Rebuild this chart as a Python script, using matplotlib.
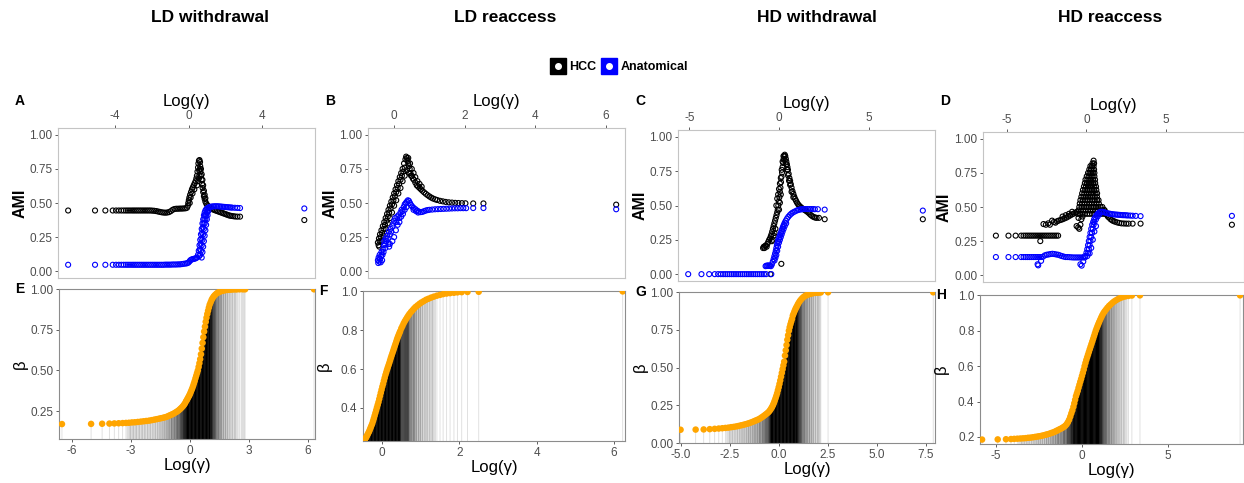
import numpy as np
import matplotlib
matplotlib.use("Agg")
import matplotlib.pyplot as plt
from matplotlib.lines import Line2D
from matplotlib.legend_handler import HandlerTuple

plt.rcParams["font.family"] = ["Liberation Sans", "DejaVu Sans"]
plt.rcParams["axes.unicode_minus"] = False

# ---- data: (log gamma, AMI) ----
titles = ["LD withdrawal", "LD reaccess", "HD withdrawal", "HD reaccess"]

A_hcc = [(-6.55, 0.445), (-5.09, 0.445), (-4.53, 0.445), (-4.13, 0.445), (-3.95, 0.445), (-3.8, 0.445),
         (-3.66, 0.445), (-3.53, 0.445), (-3.41, 0.445), (-3.3, 0.445), (-3.19, 0.445), (-3.08, 0.445),
         (-2.98, 0.445), (-2.88, 0.445), (-2.78, 0.445), (-2.68, 0.445), (-2.58, 0.445), (-2.48, 0.445),
         (-2.38, 0.445), (-2.28, 0.445), (-2.18, 0.445), (-2.08, 0.445), (-1.98, 0.444), (-1.88, 0.443),
         (-1.78, 0.441), (-1.68, 0.438), (-1.58, 0.435), (-1.48, 0.432), (-1.38, 0.43), (-1.28, 0.429),
         (-1.18, 0.43), (-1.08, 0.433), (-0.98, 0.44), (-0.88, 0.45), (-0.78, 0.456), (-0.68, 0.458),
         (-0.58, 0.458), (-0.48, 0.459), (-0.38, 0.459), (-0.28, 0.46), (-0.18, 0.461), (-0.1, 0.465),
         (-0.05, 0.48), (-0.03, 0.5), (0.0, 0.52), (0.03, 0.54), (0.07, 0.56), (0.12, 0.58), (0.17, 0.6),
         (0.22, 0.615), (0.27, 0.63), (0.32, 0.645), (0.37, 0.66), (0.41, 0.68), (0.44, 0.7), (0.47, 0.73),
         (0.5, 0.76), (0.52, 0.79), (0.55, 0.81), (0.58, 0.815), (0.61, 0.8), (0.62, 0.77), (0.6, 0.75),
         (0.63, 0.73), (0.66, 0.7), (0.69, 0.67), (0.72, 0.64), (0.75, 0.61), (0.78, 0.58), (0.82, 0.55),
         (0.86, 0.53), (0.9, 0.51), (0.95, 0.495), (1.0, 0.485), (1.06, 0.475), (0.55, 0.68), (0.5, 0.66),
         (0.45, 0.63), (0.58, 0.7), (0.56, 0.74), (0.3, 0.6), (0.2, 0.57), (0.1, 0.54), (0.05, 0.5),
         (0.66, 0.75), (0.7, 0.71), (0.74, 0.67), (0.78, 0.63), (0.82, 0.59), (0.86, 0.56), (0.9, 0.535),
         (1.12, 0.467), (1.2, 0.46), (1.28, 0.455), (1.36, 0.45), (1.44, 0.446), (1.52, 0.442), (1.6, 0.438),
         (1.68, 0.434), (1.76, 0.43), (1.84, 0.426), (1.92, 0.422), (2.0, 0.418), (2.08, 0.414), (2.16, 0.41),
         (2.24, 0.407), (2.32, 0.405), (2.42, 0.403), (2.52, 0.401), (2.64, 0.4), (2.78, 0.4), (6.27, 0.375)]
A_anat = [(-6.55, 0.047), (-5.09, 0.047), (-4.53, 0.047), (-4.13, 0.047), (-3.95, 0.047), (-3.8, 0.047),
          (-3.66, 0.047), (-3.53, 0.047), (-3.41, 0.047), (-3.3, 0.047), (-3.19, 0.047), (-3.08, 0.047),
          (-2.98, 0.047), (-2.88, 0.047), (-2.78, 0.047), (-2.68, 0.047), (-2.58, 0.047), (-2.48, 0.047),
          (-2.38, 0.047), (-2.28, 0.047), (-2.18, 0.047), (-2.08, 0.047), (-1.98, 0.047), (-1.88, 0.047),
          (-1.78, 0.047), (-1.68, 0.047), (-1.58, 0.047), (-1.48, 0.047), (-1.38, 0.047), (-1.28, 0.048),
          (-1.18, 0.048), (-1.08, 0.048), (-0.98, 0.048), (-0.88, 0.049), (-0.78, 0.049), (-0.68, 0.049),
          (-0.58, 0.05), (-0.48, 0.05), (-0.38, 0.052), (-0.28, 0.054), (-0.18, 0.056), (-0.1, 0.058),
          (-0.03, 0.062), (0.03, 0.07), (0.08, 0.08), (0.14, 0.085), (0.2, 0.088), (0.26, 0.09), (0.32, 0.092),
          (0.38, 0.095), (0.44, 0.1), (0.5, 0.12), (0.54, 0.15), (0.58, 0.19), (0.62, 0.23), (0.66, 0.27),
          (0.7, 0.31), (0.74, 0.35), (0.78, 0.38), (0.82, 0.41), (0.86, 0.43), (0.9, 0.445), (0.95, 0.455),
          (1.0, 0.462), (0.62, 0.12), (0.66, 0.15), (0.7, 0.19), (0.74, 0.23), (0.78, 0.27), (0.82, 0.31),
          (0.86, 0.35), (0.9, 0.38), (0.94, 0.41), (0.98, 0.43), (1.02, 0.445), (0.56, 0.11), (0.6, 0.16),
          (0.64, 0.2), (0.68, 0.24), (0.72, 0.28), (0.76, 0.32), (0.8, 0.35), (0.84, 0.38), (0.88, 0.41),
          (0.7, 0.1), (0.74, 0.14), (0.78, 0.18), (0.82, 0.22), (0.86, 0.26), (0.9, 0.3), (0.94, 0.34),
          (0.98, 0.38), (1.02, 0.41), (1.06, 0.44),
          (1.08, 0.468), (1.16, 0.472), (1.24, 0.474), (1.32, 0.475), (1.4, 0.476), (1.48, 0.476), (1.56, 0.476),
          (1.64, 0.475), (1.72, 0.474), (1.8, 0.473), (1.88, 0.472), (1.96, 0.471), (2.04, 0.47), (2.12, 0.469),
          (2.2, 0.468), (2.28, 0.467), (2.36, 0.466), (2.5, 0.465), (2.64, 0.464), (2.78, 0.463), (6.27, 0.46)]

B_hcc = [(-0.46, 0.21), (-0.44, 0.19), (-0.43, 0.24), (-0.41, 0.22), (-0.4, 0.27), (-0.38, 0.25), (-0.36, 0.3),
         (-0.34, 0.28), (-0.32, 0.33), (-0.3, 0.31), (-0.28, 0.36), (-0.26, 0.34), (-0.24, 0.39), (-0.22, 0.37),
         (-0.2, 0.42), (-0.18, 0.4), (-0.16, 0.45), (-0.14, 0.43), (-0.12, 0.48), (-0.1, 0.46), (-0.08, 0.51),
         (-0.06, 0.49), (-0.04, 0.54), (-0.02, 0.52), (0.0, 0.57), (0.02, 0.55), (0.04, 0.6), (0.06, 0.58),
         (0.08, 0.63), (0.1, 0.61), (0.12, 0.66), (0.14, 0.64), (0.16, 0.69), (0.18, 0.67), (0.2, 0.72),
         (0.22, 0.7), (0.24, 0.75), (0.26, 0.73), (0.28, 0.79), (0.3, 0.76), (0.32, 0.82), (0.34, 0.84),
         (0.36, 0.83), (0.38, 0.81), (0.4, 0.79), (0.42, 0.77), (0.44, 0.75), (0.46, 0.72), (0.48, 0.7),
         (0.5, 0.7), (0.53, 0.68), (0.56, 0.67), (0.6, 0.65), (0.64, 0.63), (0.68, 0.62), (0.72, 0.61),
         (0.76, 0.6), (0.8, 0.59), (0.85, 0.578), (0.9, 0.567), (0.95, 0.557), (1.0, 0.548), (1.05, 0.54),
         (1.1, 0.533), (1.16, 0.527), (1.22, 0.522), (1.3, 0.516), (1.38, 0.512), (1.46, 0.508), (1.55, 0.505),
         (1.64, 0.503), (1.73, 0.501), (1.82, 0.5), (1.92, 0.499), (2.02, 0.498), (2.24, 0.497), (2.53, 0.497),
         (6.29, 0.488), (-0.42, 0.18), (-0.36, 0.22), (-0.3, 0.26), (-0.24, 0.31), (-0.18, 0.35), (-0.12, 0.39),
         (-0.06, 0.43), (0.0, 0.48), (0.06, 0.52), (0.12, 0.57), (0.18, 0.61), (0.24, 0.66), (0.3, 0.7),
         (0.36, 0.74), (0.42, 0.72), (0.4, 0.83), (0.45, 0.79), (0.5, 0.75), (0.55, 0.72), (0.6, 0.69),
         (0.66, 0.66), (0.72, 0.64), (0.78, 0.62)]
B_anat = [(-0.46, 0.08), (-0.45, 0.06), (-0.44, 0.1), (-0.42, 0.07), (-0.41, 0.12), (-0.4, 0.09), (-0.38, 0.065),
          (-0.37, 0.11), (-0.36, 0.14), (-0.34, 0.08), (-0.33, 0.12), (-0.32, 0.16), (-0.3, 0.14), (-0.29, 0.19),
          (-0.28, 0.22), (-0.26, 0.2), (-0.25, 0.17), (-0.24, 0.24), (-0.22, 0.22), (-0.2, 0.26), (-0.18, 0.24),
          (-0.16, 0.2), (-0.14, 0.18), (-0.12, 0.2), (-0.15, 0.29), (-0.12, 0.27), (-0.1, 0.31), (-0.08, 0.29),
          (-0.05, 0.33), (-0.02, 0.35), (0.0, 0.37), (0.03, 0.39), (0.06, 0.36), (0.09, 0.4), (0.12, 0.41),
          (0.15, 0.39), (0.18, 0.43), (0.21, 0.45), (0.24, 0.44), (0.27, 0.47), (0.3, 0.49), (0.33, 0.5),
          (0.36, 0.51), (0.39, 0.52), (0.42, 0.515), (0.45, 0.5), (0.48, 0.485), (0.51, 0.475), (0.55, 0.465),
          (0.6, 0.455), (0.65, 0.445), (0.7, 0.437), (0.75, 0.433), (0.8, 0.435), (0.85, 0.44), (0.9, 0.445),
          (0.95, 0.448), (1.0, 0.45), (1.08, 0.452), (1.16, 0.454), (1.24, 0.455), (1.32, 0.456), (1.4, 0.457),
          (1.48, 0.458), (1.56, 0.459), (1.64, 0.46), (1.72, 0.461), (1.8, 0.461), (1.88, 0.462), (1.96, 0.462),
          (2.04, 0.462), (2.24, 0.463), (2.53, 0.463), (6.29, 0.454),
          (-0.05, 0.22), (0.0, 0.25), (0.05, 0.3), (0.1, 0.34), (0.15, 0.36), (0.2, 0.4), (0.25, 0.42),
          (0.3, 0.45), (0.35, 0.47), (0.55, 0.45), (0.62, 0.44), (0.68, 0.43)]

C_hcc = [(-0.89, 0.19), (-0.85, 0.2), (-0.81, 0.19), (-0.77, 0.205), (-0.73, 0.21), (-0.69, 0.2), (-0.65, 0.22),
         (-0.6, 0.235), (-0.55, 0.25), (-0.5, 0.26), (-0.46, 0.275), (-0.42, 0.29), (-0.38, 0.31), (-0.34, 0.33),
         (-0.3, 0.35), (-0.26, 0.37), (-0.22, 0.39), (-0.18, 0.41), (-0.14, 0.43), (-0.1, 0.45), (-0.07, 0.47),
         (-0.04, 0.5), (-0.01, 0.53), (0.02, 0.56), (0.05, 0.6), (0.08, 0.63), (0.11, 0.67), (0.14, 0.71),
         (0.17, 0.74), (0.2, 0.78), (0.23, 0.81), (0.26, 0.84), (0.29, 0.86), (0.32, 0.87), (0.35, 0.86),
         (0.38, 0.84), (0.41, 0.82), (0.44, 0.8), (0.47, 0.78), (0.5, 0.76), (0.54, 0.73), (0.58, 0.7),
         (0.62, 0.68), (0.66, 0.655), (0.7, 0.63), (0.75, 0.605), (0.8, 0.585), (0.85, 0.565), (0.9, 0.548),
         (0.95, 0.535), (1.0, 0.522), (1.06, 0.51), (1.12, 0.5), (1.18, 0.492), (1.24, 0.485), (1.3, 0.479),
         (1.38, 0.472), (1.46, 0.465), (1.54, 0.458), (1.62, 0.45), (1.7, 0.44), (1.78, 0.43), (1.86, 0.422),
         (1.94, 0.416), (2.02, 0.412), (2.1, 0.41), (2.23, 0.41), (2.55, 0.4), (8.03, 0.4),
         (-0.15, 0.5), (-0.1, 0.55), (-0.05, 0.58), (0.0, 0.62), (0.05, 0.66), (0.1, 0.7), (0.15, 0.76),
         (0.2, 0.82), (0.25, 0.86), (0.3, 0.83), (0.0, 0.47), (0.05, 0.52), (0.1, 0.58), (-0.2, 0.33),
         (-0.25, 0.3), (-0.3, 0.28), (-0.35, 0.25), (-0.4, 0.24), (0.13, 0.075), (-0.48, 0.0),
         (0.4, 0.8), (0.45, 0.76), (0.5, 0.72), (0.56, 0.68), (0.62, 0.65), (0.7, 0.6), (0.8, 0.56)]
C_anat = [(-5.07, 0.0), (-4.33, 0.0), (-3.9, 0.0), (-3.59, 0.0), (-3.4, 0.0), (-3.25, 0.0), (-3.12, 0.0),
          (-3.0, 0.0), (-2.88, 0.0), (-2.76, 0.0), (-2.64, 0.0), (-2.52, 0.0), (-2.4, 0.0), (-2.28, 0.0),
          (-2.16, 0.0), (-2.04, 0.0), (-1.92, 0.0), (-1.8, 0.0), (-1.68, 0.0), (-1.56, 0.0), (-1.44, 0.0),
          (-1.32, 0.0), (-1.2, 0.0), (-1.08, 0.0), (-0.96, 0.0), (-0.84, 0.0), (-0.72, 0.0),
          (-0.75, 0.058), (-0.7, 0.062), (-0.65, 0.06), (-0.6, 0.064), (-0.55, 0.06), (-0.5, 0.062),
          (-0.45, 0.058), (-0.43, 0.0), (-0.4, 0.07), (-0.35, 0.09), (-0.3, 0.11), (-0.26, 0.13), (-0.22, 0.15),
          (-0.18, 0.17), (-0.15, 0.19), (-0.12, 0.21), (-0.09, 0.225), (-0.06, 0.24), (-0.02, 0.255), (0.02, 0.27),
          (0.06, 0.285), (0.1, 0.3), (0.14, 0.315), (0.18, 0.33), (0.22, 0.345), (0.27, 0.36), (0.32, 0.375),
          (0.38, 0.39), (0.45, 0.405), (0.52, 0.418), (0.6, 0.43), (0.68, 0.44), (0.76, 0.448), (0.86, 0.455),
          (0.97, 0.462), (-0.25, 0.1), (-0.2, 0.12), (-0.15, 0.14), (-0.1, 0.17), (-0.05, 0.2), (0.0, 0.23),
          (0.05, 0.25), (0.1, 0.27), (0.15, 0.29), (0.2, 0.31), (0.26, 0.33), (0.32, 0.35), (0.4, 0.37),
          (1.06, 0.467), (1.14, 0.47), (1.22, 0.472), (1.3, 0.473),
          (1.4, 0.474), (1.5, 0.474), (1.6, 0.474), (1.7, 0.474), (1.8, 0.474), (1.9, 0.474), (2.0, 0.473),
          (2.17, 0.473), (2.55, 0.47), (8.03, 0.463)]

D_hcc = [(-5.69, 0.29), (-4.9, 0.29), (-4.45, 0.29), (-4.1, 0.29), (-3.95, 0.29), (-3.82, 0.29), (-3.7, 0.29),
         (-3.58, 0.29), (-3.46, 0.29), (-3.34, 0.29), (-3.22, 0.29), (-3.1, 0.29), (-2.98, 0.29), (-2.86, 0.29),
         (-2.74, 0.29), (-2.62, 0.29), (-2.5, 0.29), (-2.38, 0.29), (-2.26, 0.29), (-2.14, 0.29), (-2.02, 0.29),
         (-1.9, 0.29), (-1.78, 0.29), (-2.9, 0.25), (-2.7, 0.375), (-2.55, 0.37), (-2.4, 0.38), (-2.3, 0.37),
         (-2.16, 0.4), (-2.05, 0.39), (-1.95, 0.385), (-1.85, 0.395), (-1.75, 0.4), (-1.62, 0.405), (-1.5, 0.41),
         (-1.38, 0.416), (-1.26, 0.422), (-1.14, 0.43), (-1.02, 0.438), (-0.9, 0.446), (-0.8, 0.452),
         (-0.7, 0.458), (-0.6, 0.465), (-0.62, 0.36), (-0.52, 0.35), (-0.45, 0.34), (-0.38, 0.37), (-0.32, 0.41),
         (-0.25, 0.43), (-0.5, 0.42), (-0.4, 0.45), (-1.5, 0.43), (-1.3, 0.44), (-1.1, 0.45), (-0.9, 0.465),
         (1.4, 0.425), (1.5, 0.412), (1.6, 0.403), (1.7, 0.397), (1.8, 0.392), (1.93, 0.387), (2.06, 0.383),
         (2.2, 0.38), (2.35, 0.379), (2.5, 0.378), (2.65, 0.378), (2.9, 0.378), (3.4, 0.378), (9.14, 0.37),
         (1.2, 0.46), (1.3, 0.44), (1.35, 0.43), (1.1, 0.48), (1.0, 0.5)]
# the dense HCC peak of panel D, read row by row (AMI level -> log gamma positions)
D_peak_y = [0.45, 0.475, 0.50, 0.525, 0.55, 0.575, 0.60, 0.625, 0.65, 0.675, 0.70, 0.725, 0.75, 0.775,
            0.80, 0.82, 0.84]
D_peak_x = [[-0.55, -0.4, -0.25, -0.1, 0.05, 0.2, 0.35, 0.5, 0.65, 0.8, 0.95, 1.1, 1.25],
            [-0.5, -0.35, -0.2, -0.05, 0.1, 0.25, 0.4, 0.55, 0.7, 0.85, 1.0, 1.15],
            [-0.45, -0.3, -0.15, 0.0, 0.15, 0.3, 0.45, 0.6, 0.75, 0.88],
            [-0.42, -0.27, -0.12, 0.03, 0.18, 0.33, 0.48, 0.63, 0.78],
            [-0.38, -0.23, -0.08, 0.07, 0.22, 0.37, 0.52, 0.67, 0.76],
            [-0.32, -0.18, -0.04, 0.1, 0.24, 0.38, 0.52, 0.66],
            [-0.27, -0.13, 0.01, 0.15, 0.29, 0.43, 0.57, 0.67],
            [-0.22, -0.08, 0.06, 0.2, 0.34, 0.48, 0.62],
            [-0.16, -0.03, 0.1, 0.23, 0.36, 0.49, 0.6],
            [-0.1, 0.03, 0.16, 0.29, 0.42, 0.55],
            [-0.06, 0.06, 0.18, 0.3, 0.42, 0.54],
            [0.02, 0.14, 0.26, 0.38, 0.5],
            [0.1, 0.2, 0.3, 0.4, 0.5],
            [0.18, 0.28, 0.38, 0.48],
            [0.25, 0.35, 0.45],
            [0.38, 0.48],
            [0.45]]
D_anat = [(-5.69, 0.133), (-4.9, 0.133), (-4.45, 0.133), (-4.1, 0.133), (-3.95, 0.133), (-3.82, 0.133),
          (-3.7, 0.133), (-3.58, 0.133), (-3.46, 0.133), (-3.34, 0.133), (-3.22, 0.133), (-3.1, 0.133),
          (-2.98, 0.133), (-2.86, 0.133), (-2.74, 0.135), (-2.62, 0.145), (-2.5, 0.15), (-2.38, 0.152),
          (-2.26, 0.155), (-2.14, 0.157), (-2.02, 0.155), (-1.9, 0.152), (-1.78, 0.15), (-1.66, 0.145),
          (-1.54, 0.14), (-1.42, 0.136), (-1.3, 0.133), (-1.18, 0.133), (-1.06, 0.132), (-0.94, 0.131),
          (-0.82, 0.13), (-0.7, 0.13), (-0.58, 0.13), (-0.46, 0.13), (-0.34, 0.13), (-0.22, 0.13), (-0.1, 0.13),
          (-3.07, 0.08), (-3.03, 0.072), (-2.85, 0.105), (-0.38, 0.08), (-0.3, 0.07), (-0.2, 0.1), (-0.1, 0.14),
          (0.0, 0.165), (0.05, 0.19), (0.1, 0.22), (0.15, 0.25), (0.2, 0.28), (0.25, 0.31), (0.3, 0.34),
          (0.36, 0.37), (0.42, 0.39), (0.48, 0.41), (0.55, 0.425), (0.62, 0.438), (0.7, 0.45), (0.8, 0.46),
          (0.9, 0.465), (1.0, 0.465), (0.05, 0.14), (0.1, 0.16), (0.15, 0.19), (0.2, 0.22), (0.25, 0.25),
          (0.3, 0.28), (0.35, 0.31), (0.4, 0.34), (0.45, 0.37), (0.5, 0.39), (0.6, 0.41), (0.7, 0.43),
          (0.8, 0.445), (0.2, 0.16), (0.3, 0.2), (0.4, 0.26), (0.5, 0.32), (0.6, 0.36),
          (1.1, 0.462), (1.2, 0.458), (1.3, 0.455), (1.4, 0.452), (1.5, 0.45), (1.6, 0.448), (1.7, 0.446),
          (1.8, 0.445), (1.9, 0.444), (2.0, 0.443), (2.1, 0.442), (2.2, 0.441), (2.3, 0.44), (2.4, 0.44),
          (2.5, 0.439), (2.6, 0.438), (2.75, 0.437), (2.9, 0.436), (3.1, 0.435), (3.4, 0.433), (9.14, 0.435)]

# ---- (log gamma, beta) ----
E_beta = [(-6.5, 0.17), (-5.02, 0.171), (-4.46, 0.172), (-4.09, 0.173), (-3.84, 0.174), (-3.62, 0.175),
          (-3.42, 0.176), (-3.25, 0.177), (-3.1, 0.178), (-2.95, 0.18), (-2.8, 0.181), (-2.65, 0.183),
          (-2.5, 0.185), (-2.36, 0.187), (-2.22, 0.189), (-2.08, 0.191), (-1.95, 0.194), (-1.82, 0.197),
          (-1.7, 0.2), (-1.58, 0.203), (-1.47, 0.206), (-1.36, 0.209), (-1.26, 0.212), (-1.16, 0.216),
          (-1.07, 0.221), (-0.98, 0.226), (-0.9, 0.23), (-0.82, 0.235), (-0.74, 0.241), (-0.67, 0.246),
          (-0.6, 0.252), (-0.53, 0.259), (-0.47, 0.266), (-0.41, 0.273), (-0.35, 0.281), (-0.3, 0.289),
          (-0.25, 0.298), (-0.2, 0.31), (-0.16, 0.318), (-0.12, 0.327), (-0.08, 0.336), (-0.04, 0.345),
          (0.0, 0.355), (0.04, 0.367), (0.08, 0.379), (0.12, 0.391), (0.16, 0.405), (0.2, 0.42), (0.24, 0.435),
          (0.28, 0.452), (0.32, 0.468), (0.36, 0.484), (0.4, 0.5), (0.44, 0.522), (0.48, 0.545), (0.52, 0.57),
          (0.56, 0.6), (0.6, 0.635), (0.64, 0.67), (0.68, 0.705), (0.72, 0.74), (0.76, 0.77), (0.8, 0.8),
          (0.84, 0.825), (0.88, 0.848), (0.92, 0.868), (0.96, 0.887), (1.0, 0.905), (1.05, 0.92), (1.1, 0.935),
          (1.15, 0.946), (1.21, 0.957), (1.27, 0.965), (1.34, 0.973), (1.41, 0.979), (1.49, 0.984),
          (1.57, 0.988), (1.66, 0.991), (1.76, 0.994), (1.86, 0.996), (1.97, 0.997), (2.09, 0.998),
          (2.22, 0.999), (2.36, 0.999), (2.52, 1.0), (2.68, 1.0), (2.8, 1.0), (6.3, 1.0)]
F_beta = [(-0.47, 0.23), (-0.45, 0.235), (-0.43, 0.242), (-0.41, 0.248), (-0.39, 0.256), (-0.37, 0.264),
          (-0.35, 0.272), (-0.33, 0.28), (-0.31, 0.29), (-0.29, 0.3), (-0.27, 0.31), (-0.25, 0.32),
          (-0.23, 0.333), (-0.21, 0.346), (-0.19, 0.36), (-0.17, 0.374), (-0.15, 0.388), (-0.13, 0.402),
          (-0.11, 0.416), (-0.09, 0.43), (-0.07, 0.446), (-0.05, 0.462), (-0.03, 0.478), (-0.01, 0.494),
          (0.01, 0.51), (0.03, 0.524), (0.05, 0.54), (0.07, 0.555), (0.09, 0.57), (0.11, 0.583), (0.13, 0.596),
          (0.15, 0.608), (0.17, 0.62), (0.19, 0.632), (0.21, 0.645), (0.23, 0.658), (0.25, 0.67), (0.27, 0.682),
          (0.29, 0.694), (0.31, 0.706), (0.33, 0.718), (0.35, 0.73), (0.37, 0.742), (0.39, 0.754), (0.41, 0.765),
          (0.43, 0.775), (0.45, 0.785), (0.47, 0.795), (0.5, 0.81), (0.53, 0.822), (0.56, 0.835), (0.59, 0.846),
          (0.62, 0.856), (0.65, 0.866), (0.68, 0.875), (0.71, 0.884), (0.75, 0.894), (0.79, 0.903), (0.83, 0.912),
          (0.87, 0.92), (0.92, 0.928), (0.97, 0.936), (1.02, 0.943), (1.08, 0.95), (1.14, 0.957), (1.2, 0.962),
          (1.27, 0.968), (1.34, 0.973), (1.42, 0.978), (1.5, 0.982), (1.58, 0.986), (1.67, 0.989), (1.76, 0.991),
          (1.86, 0.993), (1.95, 0.995), (2.06, 0.996), (2.21, 0.997), (2.5, 0.998), (6.22, 1.0)]
G_beta = [(-5.03, 0.088), (-4.26, 0.089), (-3.85, 0.09), (-3.54, 0.092), (-3.29, 0.094), (-3.08, 0.096),
          (-2.9, 0.098), (-2.74, 0.1), (-2.59, 0.102), (-2.45, 0.105), (-2.32, 0.107), (-2.19, 0.11),
          (-2.07, 0.113), (-1.95, 0.117), (-1.84, 0.12), (-1.73, 0.124), (-1.62, 0.128), (-1.52, 0.132),
          (-1.42, 0.137), (-1.32, 0.142), (-1.23, 0.147), (-1.14, 0.152), (-1.05, 0.157), (-0.97, 0.163),
          (-0.89, 0.17), (-0.81, 0.177), (-0.74, 0.184), (-0.67, 0.191), (-0.6, 0.198), (-0.54, 0.205),
          (-0.48, 0.214), (-0.43, 0.224), (-0.38, 0.234), (-0.34, 0.244), (-0.3, 0.255), (-0.26, 0.268),
          (-0.22, 0.282), (-0.18, 0.297), (-0.14, 0.313), (-0.1, 0.33), (-0.06, 0.35), (-0.02, 0.37),
          (0.02, 0.392), (0.06, 0.415), (0.1, 0.44), (0.14, 0.465), (0.18, 0.49), (0.22, 0.515), (0.26, 0.54),
          (0.3, 0.58), (0.34, 0.615), (0.38, 0.65), (0.42, 0.685), (0.46, 0.715), (0.5, 0.745), (0.54, 0.768),
          (0.58, 0.788), (0.62, 0.806), (0.66, 0.823), (0.7, 0.845), (0.74, 0.858), (0.78, 0.872), (0.82, 0.884),
          (0.86, 0.895), (0.9, 0.905), (0.95, 0.918), (1.0, 0.93), (1.06, 0.942), (1.12, 0.952), (1.19, 0.962),
          (1.26, 0.97), (1.34, 0.977), (1.42, 0.982), (1.51, 0.987), (1.6, 0.99), (1.7, 0.993), (1.8, 0.996),
          (1.92, 0.997), (2.03, 0.998), (2.13, 0.999), (2.5, 1.0), (7.87, 1.0)]
H_beta = [(-5.81, 0.185), (-4.9, 0.186), (-4.42, 0.187), (-4.13, 0.188), (-3.94, 0.189), (-3.76, 0.19),
          (-3.59, 0.191), (-3.43, 0.192), (-3.28, 0.193), (-3.14, 0.195), (-3.0, 0.196), (-2.86, 0.198),
          (-2.73, 0.2), (-2.6, 0.202), (-2.48, 0.204), (-2.36, 0.206), (-2.24, 0.209), (-2.12, 0.212),
          (-2.01, 0.215), (-1.9, 0.218), (-1.79, 0.222), (-1.69, 0.225), (-1.59, 0.229), (-1.49, 0.234),
          (-1.4, 0.238), (-1.31, 0.243), (-1.22, 0.247), (-1.13, 0.252), (-1.05, 0.257), (-0.97, 0.263),
          (-0.89, 0.272), (-0.82, 0.283), (-0.75, 0.297), (-0.68, 0.315), (-0.62, 0.333), (-0.56, 0.35),
          (-0.5, 0.37), (-0.45, 0.39), (-0.4, 0.41), (-0.35, 0.43), (-0.3, 0.445), (-0.25, 0.46), (-0.2, 0.478),
          (-0.15, 0.495), (-0.1, 0.512), (-0.05, 0.528), (0.0, 0.545), (0.05, 0.562), (0.1, 0.58), (0.15, 0.6),
          (0.2, 0.618), (0.25, 0.635), (0.3, 0.65), (0.35, 0.665), (0.4, 0.68), (0.45, 0.695), (0.5, 0.71),
          (0.55, 0.725), (0.6, 0.74), (0.65, 0.755), (0.7, 0.77), (0.75, 0.785), (0.8, 0.8), (0.85, 0.813),
          (0.9, 0.826), (0.95, 0.838), (1.0, 0.85), (1.06, 0.863), (1.12, 0.876), (1.18, 0.888), (1.25, 0.9),
          (1.32, 0.91), (1.4, 0.92), (1.48, 0.93), (1.57, 0.94), (1.66, 0.948), (1.76, 0.957), (1.86, 0.965),
          (1.97, 0.972), (2.09, 0.979), (2.22, 0.985), (2.36, 0.99), (2.52, 0.994), (2.7, 0.997), (2.9, 0.999),
          (3.37, 1.0), (9.19, 1.0)]

W, H = 1244, 483
fig = plt.figure(figsize=(W / 100, H / 100), dpi=100)


def rect(l, r, t, b):
    return [l / W, 1 - b / H, (r - l) / W, (b - t) / H]


def style(ax, spine_col):
    for s in ax.spines.values():
        s.set_color(spine_col)
        s.set_linewidth(0.8)
    ax.tick_params(length=2.5, width=0.6, color="#444444", labelcolor="#4d4d4d", labelsize=8.5, pad=1.5)


def ami_panel(box, hcc, anat, xlim, xticks, letter):
    ax = fig.add_axes(rect(*box))
    for pts, col in ((hcc, "black"), (anat, "blue")):
        x, y = zip(*pts)
        ax.scatter(x, y, s=13, facecolors="none", edgecolors=col, linewidths=0.8)
    ax.set_xlim(xlim)
    ax.set_ylim(-0.05, 1.05)
    ax.set_yticks([0, 0.25, 0.5, 0.75, 1.0])
    ax.set_yticklabels(["0.00", "0.25", "0.50", "0.75", "1.00"])
    ax.set_xticks(xticks)
    ax.xaxis.tick_top()
    ax.xaxis.set_label_position("top")
    ax.set_xlabel("Log(γ)", fontsize=12, labelpad=3)
    ax.set_ylabel("AMI", fontsize=11.5, fontweight="bold")
    ax.yaxis.set_label_coords(-0.12, 0.5)
    style(ax, "#c4c4c4")
    fig.text(box[0] / W - 43 / W, 1 - 101 / H, letter, fontsize=10, fontweight="bold", va="center")
    return ax


def beta_panel(box, pts, xlim, ylim, xticks, yticks, xfmt, yfmt, letter):
    ax = fig.add_axes(rect(*box))
    g, b = map(np.array, zip(*pts))
    ax.set_xlim(xlim)
    ax.set_ylim(ylim)
    # shade each segment by how tightly the gamma values are packed (in pixels)
    px_per_unit = (box[1] - box[0]) / (xlim[1] - xlim[0])
    gap = np.gradient(g) * px_per_unit
    alpha = np.clip((0.9 / gap) ** 2, 0.13, 1.0)
    width_px = np.where(gap < 3, np.maximum(gap * 1.5, 0.9), 0.9)
    cols = [(0, 0, 0, a) for a in alpha]
    ax.vlines(g, ylim[0], b, colors=cols, linewidths=width_px * 0.72, snap=False)
    ax.scatter(g, b, s=22, color="#FFA500", edgecolors="none", zorder=3)
    ax.set_xticks(xticks)
    ax.set_xticklabels([xfmt.format(v) for v in xticks])
    ax.set_yticks(yticks)
    ax.set_yticklabels([yfmt.format(v) for v in yticks])
    ax.set_xlabel("Log(γ)", fontsize=12, labelpad=1)
    ax.set_ylabel("β", fontsize=12)
    ax.yaxis.set_label_coords(-0.12, 0.5)
    style(ax, "#8c8c8c")
    fig.text(box[0] / W - 44 / W, 1 - box[2] / H, letter, fontsize=10, fontweight="bold", va="center")
    return ax


D_hcc_all = D_hcc + [(x, y) for y, row in zip(D_peak_y, D_peak_x) for x in row]

ami_panel((58, 315, 128, 278), A_hcc, A_anat, (-7.1, 6.85), [-4, 0, 4], "A")
ami_panel((368, 625, 128, 278), B_hcc, B_anat, (-0.74, 6.54), [0, 2, 4, 6], "B")
ami_panel((678, 935, 130, 281), C_hcc, C_anat, (-5.64, 8.71), [-5, 0, 5], "C")
ami_panel((983, 1244, 132, 282), D_hcc_all, D_anat, (-6.5, 9.9), [-5, 0, 5], "D")

beta_panel((59, 315, 289, 439), E_beta, (-6.65, 6.35), (0.078, 1.002), [-6, -3, 0, 3, 6],
           [0.25, 0.50, 0.75, 1.00], "{:g}", "{:.2f}", "E")
beta_panel((363, 625, 291, 441), F_beta, (-0.49, 6.28), (0.23, 1.002), [0, 2, 4, 6],
           [0.4, 0.6, 0.8, 1.0], "{:g}", "{:.1f}", "F")
beta_panel((679, 935, 292, 443), G_beta, (-5.11, 7.96), (0.0, 1.002), [-5, -2.5, 0, 2.5, 5, 7.5],
           [0.0, 0.25, 0.50, 0.75, 1.00], "{:.1f}", "{:.2f}", "G")
beta_panel((980, 1243, 295, 444), H_beta, (-5.93, 9.36), (0.16, 1.002), [-5, 0, 5],
           [0.2, 0.4, 0.6, 0.8, 1.0], "{:g}", "{:.1f}", "H")

# column titles
for cx, t in zip([210, 505, 817, 1110], titles):
    fig.text(cx / W, 1 - 17 / H, t, fontsize=12.5, fontweight="bold", ha="center", va="center")

# legend: filled square with a white dot
h_hcc = (Line2D([], [], marker="s", color="black", ms=11, ls=""),
         Line2D([], [], marker="o", color="white", ms=4, ls=""))
h_anat = (Line2D([], [], marker="s", color="blue", ms=11, ls=""),
          Line2D([], [], marker="o", color="white", ms=4, ls=""))
fig.legend([h_hcc, h_anat], ["HCC", "Anatomical"], handler_map={tuple: HandlerTuple(ndivide=1)},
           ncol=2, loc="center", bbox_to_anchor=(620 / W, 1 - 67 / H), frameon=False,
           prop={"weight": "bold", "size": 9}, handlelength=1.0, handletextpad=0.4, columnspacing=0.5)

fig.savefig("out.png", dpi=100)
